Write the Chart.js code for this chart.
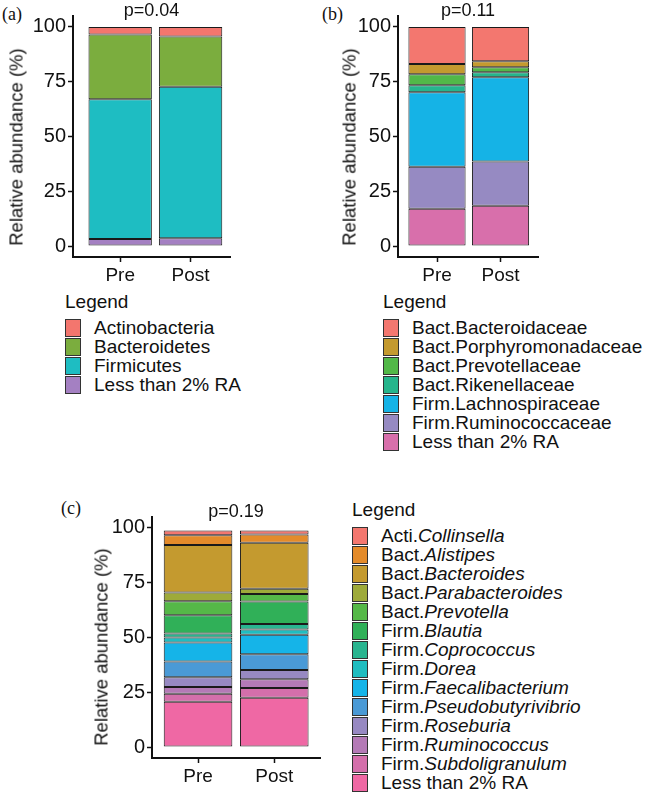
<!DOCTYPE html>
<html>
<head>
<meta charset="utf-8">
<script src="https://cdn.jsdelivr.net/npm/chart.js@4.4.1/dist/chart.umd.min.js"></script>
<style>
  body { margin: 0; background: #fff; }
  #page { position: relative; width: 647px; height: 794px; overflow: hidden;
          font-family: 'Liberation Sans', Arial, sans-serif; color: #111; }
  canvas { position: absolute; }
  .tag { position: absolute; font-family: 'Liberation Serif', 'Times New Roman', serif;
         font-size: 18px; line-height: 18px; }
  .ytitle { position: absolute; font-size: 18.5px; line-height: 19px; white-space: nowrap;
            transform: translate(-50%, -50%) rotate(-90deg); }
  .legend { position: absolute; font-size: 19px; line-height: 19px; }
  .legend .head { height: 19px; margin-bottom: 7px; }
  .legend .row { display: flex; align-items: center; height: 19px; white-space: nowrap; }
  .legend .sw { width: 16px; height: 18px; box-sizing: border-box; border: 1px solid #333;
                margin-right: 13px; flex: none; }
</style>
</head>
<body>
<div id="page">
  <div class="tag" style="left:2px; top:5px;">(a)</div>
  <div class="tag" style="left:322px; top:5px;">(b)</div>
  <div class="tag" style="left:61px; top:499px;">(c)</div>

  <canvas id="chartA" width="240" height="287" style="left:0px; top:0px;"></canvas>
  <canvas id="chartB" width="215" height="287" style="left:333px; top:0px;"></canvas>
  <canvas id="chartC" width="245" height="287" style="left:85px; top:501px;"></canvas>

  <div class="ytitle" style="left:15.5px; top:147px;">Relative abundance (%)</div>
  <div class="ytitle" style="left:349px; top:147px;">Relative abundance (%)</div>
  <div class="ytitle" style="left:100.5px; top:647px;">Relative abundance (%)</div>

  <div class="legend" id="legendA" style="left:65px; top:292px;"></div>
  <div class="legend" id="legendB" style="left:383px; top:292px;"></div>
  <div class="legend" id="legendC" style="left:352px; top:500px;"></div>
</div>

<script>
const groups = ['Pre', 'Post'];
const yTicks = [0, 25, 50, 75, 100];

// (a) phylum level, legend order (top of the stack first)
const phylumNames = ['Actinobacteria', 'Bacteroidetes', 'Firmicutes', 'Less than 2% RA'];
const phylumPre = [3.5, 29.5, 63.8, 3.2];
const phylumPost = [4.3, 23.0, 69.1, 3.6];
const phylumP = 'p=0.04';

// (b) family level
const familyNames = ['Bact.Bacteroidaceae', 'Bact.Porphyromonadaceae', 'Bact.Prevotellaceae',
  'Bact.Rikenellaceae', 'Firm.Lachnospiraceae', 'Firm.Ruminococcaceae', 'Less than 2% RA'];
const familyPre = [16.9, 4.7, 5.0, 3.2, 34.0, 19.2, 17.0];
const familyPost = [15.7, 2.7, 2.3, 2.3, 38.4, 20.2, 18.4];
const familyP = 'p=0.11';

// (c) genus level
const genusNames = ['Acti.Collinsella', 'Bact.Alistipes', 'Bact.Bacteroides', 'Bact.Parabacteroides',
  'Bact.Prevotella', 'Firm.Blautia', 'Firm.Coprococcus', 'Firm.Dorea', 'Firm.Faecalibacterium',
  'Firm.Pseudobutyrivibrio', 'Firm.Roseburia', 'Firm.Ruminococcus', 'Firm.Subdoligranulum',
  'Less than 2% RA'];
const genusPre = [2.1, 4.5, 21.7, 3.9, 6.4, 8.4, 1.8, 2.3, 8.6, 7.3, 4.4, 3.1, 3.6, 20.7];
const genusPost = [1.8, 3.7, 21.1, 2.4, 3.4, 10.2, 2.5, 2.4, 9.0, 7.1, 4.3, 3.9, 4.5, 22.5];
const genusP = 'p=0.19';

// fill colours (ggplot hue palette as it looks in the figure)
const phylumColors = ['#f3766e', '#7bad3e', '#1ebdc2', '#a480c2'];
const familyColors = ['#f3776f', '#c49a2f', '#52b848', '#26b58c', '#15b3e6', '#968ac2', '#d86fab'];
const genusColors = ['#f3776f', '#e48b2a', '#c49a2f', '#9eaa3a', '#55b848', '#30b058', '#29b590',
  '#1fbdc0', '#15b4e8', '#4a9ad6', '#9789c2', '#b47ab6', '#d46fab', '#ef68a4'];

Chart.defaults.font.family = "'Liberation Sans', Arial, sans-serif";
Chart.defaults.color = '#111';

const axisBorder = { color: '#111', width: 2 };

function drawPanel(id, names, colors, pre, post, pText, xMin, xMax, yAxisWidth) {
  // ggplot puts the first level on top, Chart.js stacks the first dataset at the bottom
  const datasets = names.map((name, i) => ({
    label: name,
    data: [{ x: 1, y: pre[i] }, { x: 2, y: post[i] }],
    backgroundColor: colors[i],
    borderColor: '#1a1a1a',
    borderWidth: 1,
    borderSkipped: false,
    barPercentage: 0.9,
    categoryPercentage: 1
  })).reverse();

  return new Chart(document.getElementById(id), {
    type: 'bar',
    data: { datasets: datasets },
    options: {
      responsive: false,
      animation: false,
      devicePixelRatio: 1,
      events: [],
      layout: { padding: { top: 2, right: 10, left: 0, bottom: 0 } },
      plugins: {
        legend: { display: false },
        tooltip: { enabled: false },
        title: {
          display: true,
          text: pText,
          fullSize: false,
          color: '#111',
          font: { size: 18, weight: 'normal', lineHeight: 1 },
          padding: { top: 0, bottom: -4 }
        }
      },
      scales: {
        x: {
          type: 'linear',
          stacked: true,
          offset: false,
          bounds: 'data',
          min: xMin,
          max: xMax,
          afterBuildTicks: (scale) => { scale.ticks = groups.map((g, i) => ({ value: i + 1 })); },
          afterFit: (scale) => { scale.height = 30; },
          ticks: { font: { size: 19 }, padding: 2, callback: (v) => groups[v - 1] },
          grid: { offset: false, drawOnChartArea: false, tickLength: 5, tickColor: '#111', tickWidth: 1.5 },
          border: axisBorder
        },
        y: {
          stacked: true,
          min: -5,
          max: 105,
          afterBuildTicks: (scale) => { scale.ticks = yTicks.map(v => ({ value: v })); },
          afterFit: (scale) => { scale.width = yAxisWidth; },
          ticks: { font: { size: 20 }, padding: 2 },
          grid: { drawOnChartArea: false, tickLength: 5, tickColor: '#111', tickWidth: 1.5 },
          border: axisBorder
        }
      }
    }
  });
}

function buildLegend(id, names, colors, italicGenus) {
  const box = document.getElementById(id);
  const head = document.createElement('div');
  head.className = 'head';
  head.textContent = 'Legend';
  box.appendChild(head);
  names.forEach((name, i) => {
    const row = document.createElement('div');
    row.className = 'row';
    const sw = document.createElement('span');
    sw.className = 'sw';
    sw.style.background = colors[i];
    row.appendChild(sw);
    const label = document.createElement('span');
    const dot = name.indexOf('.');
    if (italicGenus && dot > 0) {
      label.appendChild(document.createTextNode(name.slice(0, dot + 1)));
      const genus = document.createElement('i');
      genus.textContent = name.slice(dot + 1);
      label.appendChild(genus);
    } else {
      label.textContent = name;
    }
    row.appendChild(label);
    box.appendChild(row);
  });
}

drawPanel('chartA', phylumNames, phylumColors, phylumPre, phylumPost, phylumP, 0.33, 2.56, 73);
drawPanel('chartB', familyNames, familyColors, familyPre, familyPost, familyP, 0.386, 2.59, 65);
drawPanel('chartC', genusNames, genusColors, genusPre, genusPost, genusP, 0.396, 2.6, 67);

buildLegend('legendA', phylumNames, phylumColors, false);
buildLegend('legendB', familyNames, familyColors, false);
buildLegend('legendC', genusNames, genusColors, true);
</script>
</body>
</html>
